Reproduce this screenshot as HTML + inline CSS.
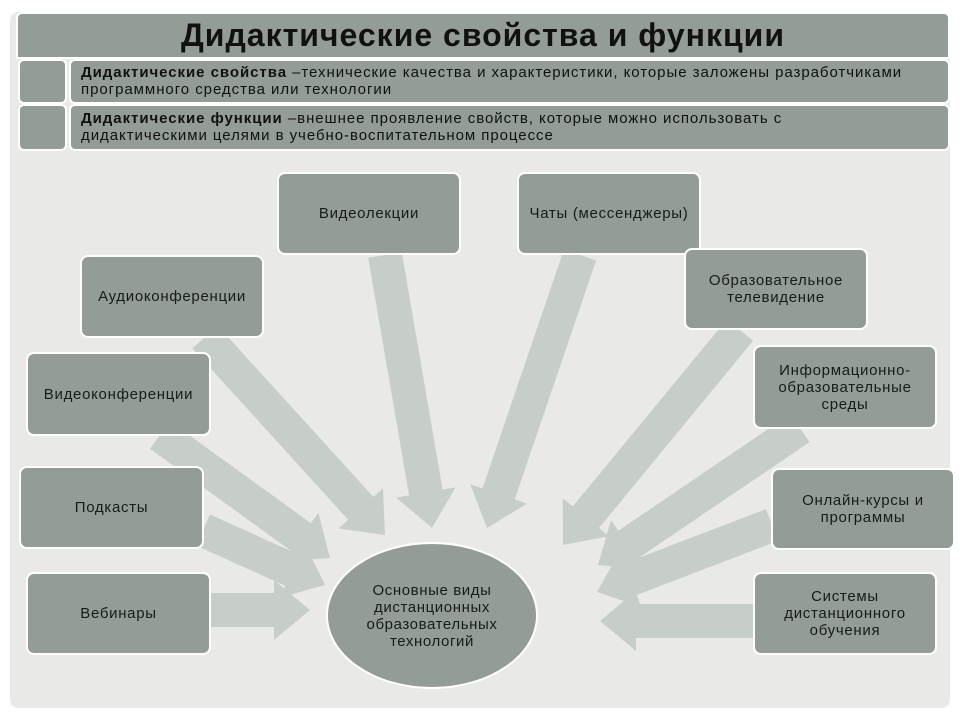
<!DOCTYPE html>
<html><head><meta charset="utf-8">
<style>
body{margin:0;width:960px;height:720px;background:#fff;overflow:hidden;font-family:"Liberation Sans","DejaVu Sans",sans-serif;}
#panel{position:absolute;left:10px;top:12px;width:940px;height:696px;background:#e9e9e8;border-radius:8px;}
.b{position:absolute;background:#939d96;border:2px solid #fff;border-radius:8px;box-sizing:border-box;display:flex;align-items:center;justify-content:center;text-align:center;font-size:15px;letter-spacing:0.7px;color:#1a1a1a;line-height:17px;}
.t{position:absolute;background:#939d96;border:2px solid #fff;box-sizing:border-box;}
svg{position:absolute;left:0;top:0;}
</style></head><body>
<div id="panel"></div>
<div class="t" style="left:16px;top:12px;width:934px;height:47px;border-radius:6px 6px 0 0;display:flex;align-items:center;justify-content:center;font-size:32px;letter-spacing:1px;font-weight:bold;color:#111;">Дидактические свойства и функции</div>
<div class="t" style="left:18px;top:59px;width:49px;height:45px;border-radius:6px;"></div>
<div class="t" style="left:69px;top:59px;width:881px;height:45px;border-radius:6px;padding:3px 10px;font-size:15px;letter-spacing:0.95px;line-height:17px;color:#111;white-space:nowrap;overflow:hidden;"><b>Дидактические свойства</b> –технические качества и характеристики, которые заложены разработчиками<br>программного средства или технологии</div>
<div class="t" style="left:18px;top:104px;width:49px;height:47px;border-radius:6px;"></div>
<div class="t" style="left:69px;top:104px;width:881px;height:47px;border-radius:6px;padding:4px 10px;font-size:15px;letter-spacing:0.95px;line-height:17px;color:#111;white-space:nowrap;overflow:hidden;"><b>Дидактические функции</b> –внешнее проявление свойств, которые можно использовать с<br>дидактическими целями в учебно-воспитательном процессе</div>
<svg id="s" width="960" height="720"></svg>
<div class="b" style="left:277px;top:172px;width:184px;height:83px;">Видеолекции</div>
<div class="b" style="left:517px;top:172px;width:184px;height:83px;">Чаты (мессенджеры)</div>
<div class="b" style="left:80px;top:255px;width:184px;height:83px;">Аудиоконференции</div>
<div class="b" style="left:684px;top:248px;width:184px;height:82px;">Образовательное<br>телевидение</div>
<div class="b" style="left:26px;top:352px;width:185px;height:84px;">Видеоконференции</div>
<div class="b" style="left:753px;top:345px;width:184px;height:84px;">Информационно-<br>образовательные<br>среды</div>
<div class="b" style="left:19px;top:466px;width:185px;height:83px;">Подкасты</div>
<div class="b" style="left:771px;top:468px;width:184px;height:82px;">Онлайн-курсы и<br>программы</div>
<div class="b" style="left:26px;top:572px;width:185px;height:83px;">Вебинары</div>
<div class="b" style="left:753px;top:572px;width:184px;height:83px;">Системы<br>дистанционного<br>обучения</div>
<div style="position:absolute;left:326px;top:542px;width:212px;height:147px;border-radius:50%;background:#939d96;border:2px solid #fff;box-sizing:border-box;display:flex;align-items:center;justify-content:center;text-align:center;font-size:15px;letter-spacing:0.6px;line-height:17px;color:#1a1a1a;">Основные виды<br>дистанционных<br>образовательных<br>технологий</div>
<script>
var A=[[385,255,432,528],[580,255,487,528],[205,337,385,535],[160,435,330,558],[203,530,325,585],[210,610,310,610],[740,330,563,545],[800,428,598,565],[772,525,597,592],[754,621,600,621]];
var s='';
A.forEach(function(a){var x1=a[0],y1=a[1],x2=a[2],y2=a[3];var dx=x2-x1,dy=y2-y1,L=Math.hypot(dx,dy),ux=dx/L,uy=dy/L,nx=-uy,ny=ux;var w=17,h=30,hl=36;var bx=x2-ux*hl,by=y2-uy*hl;
var p=[[x1+nx*w,y1+ny*w],[bx+nx*w,by+ny*w],[bx+nx*h,by+ny*h],[x2,y2],[bx-nx*h,by-ny*h],[bx-nx*w,by-ny*w],[x1-nx*w,y1-ny*w]];
s+='<polygon fill="#c7cec9" points="'+p.map(function(q){return q[0].toFixed(1)+','+q[1].toFixed(1)}).join(' ')+'"/>';});
document.getElementById('s').innerHTML=s;
</script>
</body></html>
